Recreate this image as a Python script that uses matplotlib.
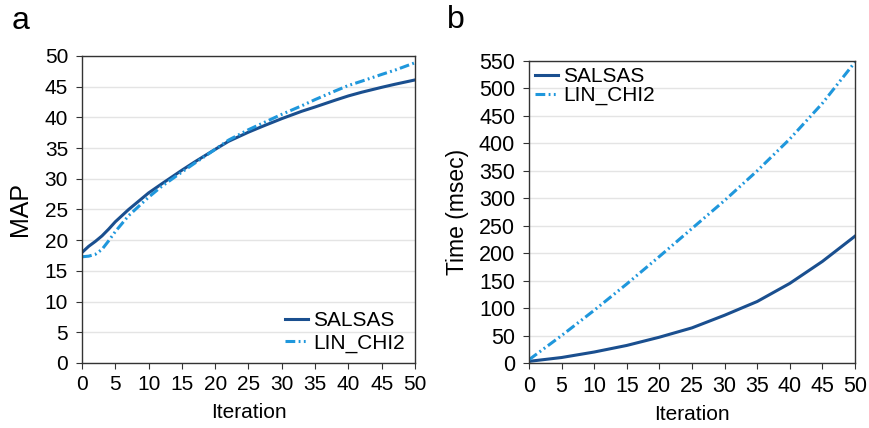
import matplotlib
matplotlib.use("Agg")
import matplotlib.pyplot as plt

plt.rcParams['font.family'] = ['Liberation Sans', 'DejaVu Sans']

# panel a: MAP vs iteration
map_iter = [0, 1, 2, 3, 4, 5, 7, 10, 12, 15, 17, 20, 22, 25, 27, 30, 33, 35, 38, 40, 42, 45, 47, 50]
map_salsas = [18.0, 19.0, 19.8, 20.7, 21.8, 23.0, 25.0, 27.7, 29.2, 31.4, 32.8, 34.8, 36.1, 37.6, 38.5, 39.8, 41.0, 41.7, 42.8, 43.5, 44.1, 44.9, 45.4, 46.1]
map_linchi2 = [17.3, 17.4, 17.7, 18.5, 19.9, 21.4, 24.0, 27.0, 28.8, 31.1, 32.6, 34.8, 36.3, 38.0, 39.0, 40.5, 41.9, 42.9, 44.3, 45.2, 45.9, 47.0, 47.7, 48.9]

# panel b: time vs iteration
time_iter = [0, 5, 10, 15, 20, 25, 30, 35, 40, 45, 50]
time_salsas = [3, 10, 20, 32, 47, 64, 87, 112, 145, 185, 231]
time_linchi2 = [6, 50, 96, 144, 194, 245, 296, 350, 408, 473, 548]

x_ticks = list(range(0, 51, 5))
map_ticks = list(range(0, 51, 5))
time_ticks = list(range(0, 551, 50))

dark_blue = '#1a4f8f'
light_blue = '#1f97dc'
dashdot = (0, (3.2, 1.1, 0.6, 1.1, 0.6, 1.1))

fig = plt.figure(figsize=(8.7, 4.28), dpi=100)
ax1 = fig.add_axes([82 / 870, 1 - 363 / 428, 333 / 870, 307 / 428])
ax2 = fig.add_axes([529 / 870, 1 - 363 / 428, 326 / 870, 302 / 428])


def style(ax, yticks, size):
    ax.set_xlim(0, 50)
    ax.set_ylim(yticks[0], yticks[-1])
    ax.set_xticks(x_ticks)
    ax.set_yticks(yticks)
    ax.grid(axis='y', color='#e4e4e4', linewidth=1)
    ax.set_axisbelow(True)
    for s in ax.spines.values():
        s.set_color('#333333')
        s.set_linewidth(1.0)
    ax.tick_params(labelsize=size, length=4, color='#333333')
    ax.tick_params(axis='x', pad=5)
    ax.tick_params(axis='y', pad=6)
    ax.set_xlabel('Iteration', fontsize=15, labelpad=6)


ax1.plot(map_iter, map_salsas, color=dark_blue, lw=2.2, label='SALSAS')
ax1.plot(map_iter, map_linchi2, color=light_blue, lw=2.2, linestyle=dashdot, label='LIN_CHI2')
style(ax1, map_ticks, 15)
ax1.set_ylabel('MAP', fontsize=18, labelpad=9)
ax1.legend(loc='lower right', frameon=False, fontsize=15, handlelength=1.1,
           handletextpad=0.25, borderaxespad=0.3, labelspacing=0.15, borderpad=0.2)

ax2.plot(time_iter, time_salsas, color=dark_blue, lw=2.2, label='SALSAS')
ax2.plot(time_iter, time_linchi2, color=light_blue, lw=2.2, linestyle=dashdot, label='LIN_CHI2')
style(ax2, time_ticks, 15.5)
ax2.set_ylabel('Time (msec)', fontsize=16.5, labelpad=7)
ax2.legend(loc='upper left', frameon=False, fontsize=15, handlelength=1.1,
           handletextpad=0.25, borderaxespad=0.1, labelspacing=0.0, borderpad=0.2)

fig.text(12 / 870, 1 - 21 / 428, 'a', fontsize=23, va='center', ha='left')
fig.text(447 / 870, 1 - 20 / 428, 'b', fontsize=23, va='center', ha='left')

fig.savefig('out.png', dpi=100)
